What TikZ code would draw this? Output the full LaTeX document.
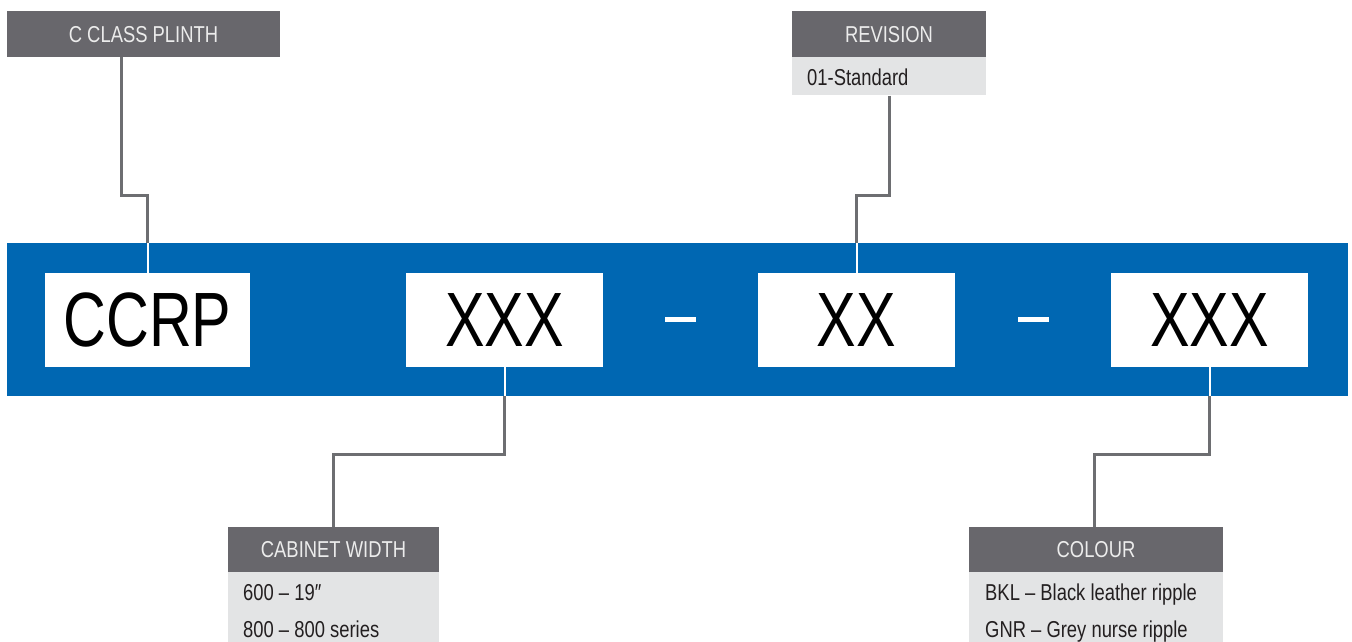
\documentclass[tikz,border=0pt]{standalone}
\usepackage{fontspec}
\setmainfont[FakeStretch=0.8]{Liberation Sans}
\newfontfamily\bigfont[FakeStretch=0.77]{Liberation Sans}
\definecolor{bandblue}{HTML}{0067B2}
\definecolor{hdrgray}{HTML}{68676C}
\definecolor{bodygray}{HTML}{E3E4E5}
\definecolor{linegray}{HTML}{6D6E71}
\definecolor{txtdark}{HTML}{231F20}
\definecolor{hdrtxt}{HTML}{ECECEC}
\begin{document}
\begin{tikzpicture}[x=1pt,y=-1pt,
  hdr/.style={rectangle,fill=hdrgray,inner sep=0pt,minimum height=46pt,text=hdrtxt,text height=16.5pt,text depth=0pt,font=\fontsize{23}{27}\selectfont},
  bodybox/.style={rectangle,fill=bodygray,inner sep=0pt},
  bodytxt/.style={anchor=base west,inner sep=0pt,text=txtdark,font=\fontsize{23}{27}\selectfont},
  codebox/.style={rectangle,fill=white,inner sep=0pt,minimum height=94pt,minimum width=197pt,font=\bigfont\fontsize{77}{80}\selectfont},
  dashbar/.style={rectangle,fill=white,inner sep=0pt,minimum width=31pt,minimum height=5pt},
  conn/.style={draw=linegray,line width=3pt},
  wconn/.style={draw=white,line width=2pt}]
\useasboundingbox (0,0) rectangle (1352,642);
% blue band
\node[rectangle,fill=bandblue,inner sep=0pt,minimum width=1341pt,minimum height=153pt] (band) at (677.5,319.5) {};
% code boxes
\node[codebox,minimum width=205pt] (ccrp) at (147.5,320) {CCRP};
\node[codebox] (xxxa) at (504.5,320) {XXX};
\node[codebox] (xx) at (856.5,320) {XX};
\node[codebox] (xxxb) at (1209.5,320) {XXX};
\node[dashbar] (dasha) at (680.5,319.5) {};
\node[dashbar] (dashb) at (1033.5,319.5) {};
% C class plinth
\node[hdr,minimum width=273pt] (plinth) at (143.5,34) {C CLASS PLINTH};
% revision
\node[hdr,minimum width=194pt] (rev) at (889,34) {REVISION};
\node[bodybox,minimum width=194pt,minimum height=38pt,anchor=north] (revbody) at (rev.south) {};
\node[bodytxt] (revt) at (807,85) {01-Standard};
% cabinet width
\node[hdr,minimum width=211pt,minimum height=45pt] (cab) at (333.5,549.5) {CABINET WIDTH};
\node[bodybox,minimum width=211pt,minimum height=80pt,anchor=north] (cabbody) at (cab.south) {};
\node[bodytxt] (cabt1) at (243,600) {600 – 19″};
\node[bodytxt] (cabt2) at (243,637) {800 – 800 series};
% colour
\node[hdr,minimum width=254pt,minimum height=45pt] (col) at (1096,549.5) {COLOUR};
\node[bodybox,minimum width=254pt,minimum height=80pt,anchor=north] (colbody) at (col.south) {};
\node[bodytxt] (colt1) at (985,600) {BKL – Black leather ripple};
\node[bodytxt] (colt2) at (985,637) {GNR – Grey nurse ripple};
% connectors
\draw[conn] ([xshift=-22.5pt]plinth.south) -- ++(0,138) -| (ccrp.north |- band.north);
\draw[wconn] (ccrp.north |- band.north) -- (ccrp.north);
\draw[conn] (revbody.south) -- ++(0,100) -| (xx.north |- band.north);
\draw[wconn] (xx.north |- band.north) -- (xx.north);
\draw[wconn] (xxxa.south) -- (xxxa.south |- band.south);
\draw[conn] (xxxa.south |- band.south) -- ++(0,58) -| (cab.north);
\draw[wconn] (xxxb.south) -- (xxxb.south |- band.south);
\draw[conn] (xxxb.south |- band.south) -- ++(0,58) -| ([xshift=-2pt]col.north);
\end{tikzpicture}
\end{document}
